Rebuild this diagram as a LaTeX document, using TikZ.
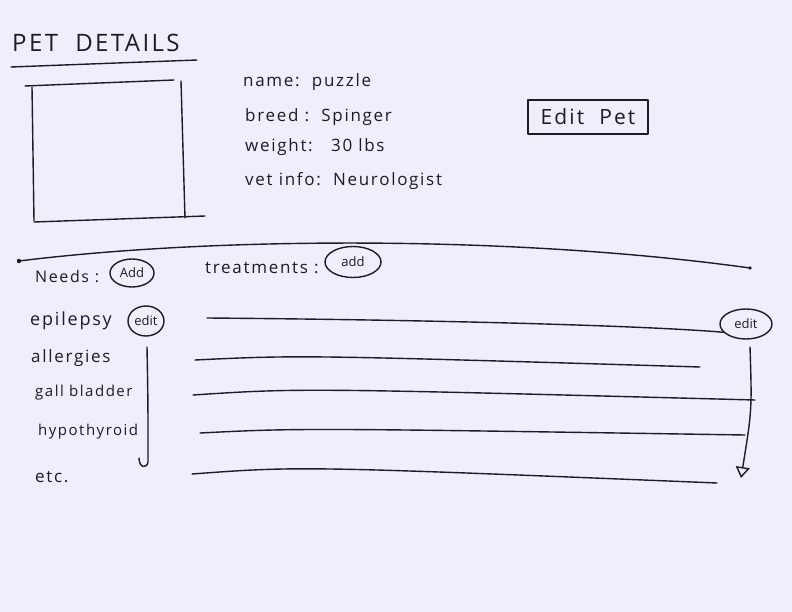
\documentclass[tikz,border=0pt]{standalone}
\usepackage{fontspec}
\setmainfont{Open Sans}
\newfontfamily\hand[LetterSpace=10]{Open Sans}
\usetikzlibrary{arrows.meta,shapes.geometric}
\definecolor{paper}{RGB}{238,239,251}
\definecolor{ink}{RGB}{28,28,34}
\begin{document}
\begin{tikzpicture}[x=1pt,y=-1pt,
  pen/.style={draw=ink,line width=1.4pt,line cap=round,line join=round},
  lbl/.style={text=ink,font=\hand\fontsize{17}{19}\selectfont,inner sep=0pt,anchor=west},
  pill/.style={ellipse,pen,text=ink,font=\fontsize{13}{15}\selectfont,inner sep=0pt}]
\fill[paper] (0,0) rectangle (792,612);
\useasboundingbox (0,0) rectangle (792,612);

% title
\node[lbl,font=\hand\fontsize{24}{27}\selectfont] (title) at (12,43) {PET\ \ DETAILS};
\coordinate (ulA) at (11,67);
\coordinate (ulB) at (197,60);
\draw[pen] (ulA) .. controls (90,64) .. (ulB);

% photo box
\coordinate (pA) at (25,86);
\coordinate (pB) at (174,80);
\coordinate (pC) at (32,87);
\coordinate (pD) at (34,221);
\coordinate (pE) at (181,81);
\coordinate (pF) at (185,218);
\coordinate (pG) at (34,222);
\coordinate (pH) at (205,216);
\draw[pen] (pA) -- (pB);
\draw[pen] (pC) -- (pD);
\draw[pen] (pE) -- (pF);
\draw[pen] (pG) -- (pH);

% pet info
\node[lbl] (name)   at (243,82)  {name:\ \ puzzle};
\node[lbl] (breed)  at (245,117) {breed :\ \ Spinger};
\node[lbl] (weight) at (245,147) {weight:\ \ \ 30 lbs};
\node[lbl] (vet)    at (245,181) {vet info:\ \ Neurologist};

\node[pen,rectangle,minimum width=120pt,minimum height=34pt,text=ink,
      font=\hand\fontsize{21}{24}\selectfont,inner sep=0pt] (editpet) at (588,117) {Edit\ \ Pet};

% separator
\coordinate (sepL) at (19,261);
\coordinate (sepR) at (750,268);
\draw[pen] (sepL) .. controls (220,236) and (520,236) .. (sepR);
\fill[ink] (sepL) circle (2.2);
\fill[ink] (sepR) circle (1.8);

% needs / treatments headers
\node[lbl,font=\hand\fontsize{16}{18}\selectfont] (needs) at (35,277) {Needs :};
\node[pill,minimum width=44pt,minimum height=28pt] (addN) at (132,273) {Add};
\node[lbl] (treat) at (205,268) {treatments :};
\node[pill,minimum width=56pt,minimum height=31pt] (addT) at (353,262) {add};

% needs list
\node[lbl,font=\hand\fontsize{18}{20}\selectfont] (epi) at (30,321) {epilepsy};
\node[pill,minimum width=36pt,minimum height=30pt] (editN) at (146,321) {edit};
\node[lbl] (allerg) at (31,358) {allergies};
\node[lbl,font=\hand\fontsize{15}{17}\selectfont] (gall) at (35,393) {gall bladder};
\node[lbl,font=\hand\fontsize{15}{17}\selectfont] (hypo) at (38,432) {hypothyroid};
\node[lbl] (etc) at (35,477) {etc.};

% left bracket
\coordinate (brT) at (147,347);
\coordinate (brB) at (148,462);
\coordinate (brE) at (139,458);
\draw[pen] (brT) .. controls (148,400) .. (brB) .. controls (147,469) and (139,468) .. (brE);

% treatment rows
\node[pill,minimum width=52pt,minimum height=30pt] (editT) at (746,324) {edit};
\coordinate (t1) at (207,318);
\draw[pen] (t1) .. controls (450,320) and (650,326) .. (editT.200);
\coordinate (t2a) at (195,360);
\coordinate (t2b) at (700,367);
\draw[pen] (t2a) .. controls (300,355) .. (t2b);
\coordinate (t3a) at (193,395);
\coordinate (t3b) at (755,400);
\draw[pen] (t3a) .. controls (300,388) .. (t3b);
\coordinate (t4a) at (200,433);
\coordinate (t4b) at (745,435);
\draw[pen] (t4a) .. controls (300,428) .. (t4b);
\coordinate (t5a) at (192,474);
\coordinate (t5b) at (717,483);
\draw[pen] (t5a) .. controls (300,466) .. (t5b);

% right arrow
\coordinate (arT) at (750,347);
\coordinate (arB) at (741,478);
\draw[pen,-{Triangle[open,length=11pt,width=14pt]}] (arT) .. controls (752,410) .. (arB);
\end{tikzpicture}
\end{document}
